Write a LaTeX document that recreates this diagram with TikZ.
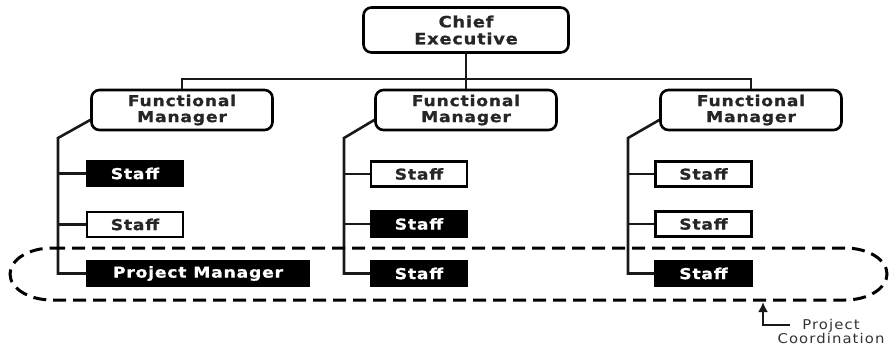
\documentclass[tikz,border=0pt]{standalone}
\usepackage{fontspec}
\setmainfont{DejaVu Sans}
\newfontfamily\boxfont{DejaVu Sans}[LetterSpace=5, FakeStretch=1.15,
  BoldFeatures={FakeBold=0.8}]
\newfontfamily\notefont{DejaVu Sans}[LetterSpace=8, FakeStretch=1.1]
\usetikzlibrary{arrows.meta}
\tikzset{
  x=1pt, y=-1pt,
  head/.style={draw, line width=2.6pt, rounded corners=8pt, fill=white,
    text=black!85, align=center, inner sep=0pt,
    font=\boxfont\bfseries\fontsize{15}{16}\selectfont,
    minimum width=181pt, minimum height=40pt},
  ceobox/.style={head, minimum width=205pt, minimum height=45pt,
    font=\boxfont\bfseries\fontsize{15.5}{17}\selectfont},
  staffw/.style={draw, line width=2.4pt, fill=white, text=black!85,
    inner sep=0pt, minimum width=96pt, minimum height=25pt,
    font=\boxfont\bfseries\fontsize{15}{16}\selectfont},
  staffb/.style={staffw, fill=black, text=white},
  link/.style={line width=2.6pt, black!90},
  ring/.style={line width=3pt, dash pattern=on 13pt off 7pt},
}
\begin{document}
\begin{tikzpicture}
\useasboundingbox (0,0) rectangle (890,349);

% top of the chart
\node[ceobox] (ceo) at (466,30) {Chief\\Executive};
\node[head] (fm1) at (182,110) {Functional\\Manager};
\node[head] (fm2) at (466,110) {Functional\\Manager};
\node[head] (fm3) at (751,110) {Functional\\Manager};

\coordinate (bus) at (466,79);
\draw[link, line width=2.2pt] (ceo.south) -- (bus);
\draw[link, line width=2.2pt] (fm1.north) |- (bus) -| (fm3.north);
\draw[link, line width=2.2pt] (bus) -- (fm2.north);

% first department
\node[staffb] (s11) at (135,173.5) {Staff};
\node[staffw] (s12) at (135,224.5) {Staff};
\node[staffb, minimum width=222pt] (pm) at (198,273.5) {Project Manager};
\coordinate (k1) at (58,138);
\draw[link] ([yshift=-10pt]fm1.west) -- (k1) |- (pm.west);
\draw[link] (k1 |- s11.west) -- (s11.west);
\draw[link] (k1 |- s12.west) -- (s12.west);

% second department
\node[staffw] (s21) at (419,174) {Staff};
\node[staffb] (s22) at (419,224) {Staff};
\node[staffb] (s23) at (419,273.5) {Staff};
\coordinate (k2) at (344,138);
\draw[link] ([yshift=-10pt]fm2.west) -- (k2) |- (s23.west);
\draw[link] (k2 |- s21.west) -- (s21.west);
\draw[link] (k2 |- s22.west) -- (s22.west);

% third department
\node[staffw] (s31) at (703.5,174) {Staff};
\node[staffw] (s32) at (703.5,224) {Staff};
\node[staffb] (s33) at (703.5,273.5) {Staff};
\coordinate (k3) at (628,138);
\draw[link] ([yshift=-10pt]fm3.west) -- (k3) |- (s33.west);
\draw[link] (k3 |- s31.west) -- (s31.west);
\draw[link] (k3 |- s32.west) -- (s32.west);

% project coordination loop (y axis points down, so angles run clockwise)
\draw[ring] (52,248) -- (845,248)
  arc[start angle=-90, end angle=90, x radius=42, y radius=26]
  -- (52,300)
  arc[start angle=90, end angle=270, x radius=42, y radius=26];

\node[font=\notefont\fontsize{13.5}{14}\selectfont, text=black!80, align=center]
  (note) at (831,331) {Project\\Coordination};
\coordinate (tip) at (763,302);
\coordinate (lk) at (790,325);
\draw[link, -{Latex[length=10pt, width=10pt]}] (lk) -| (tip);
\end{tikzpicture}
\end{document}
